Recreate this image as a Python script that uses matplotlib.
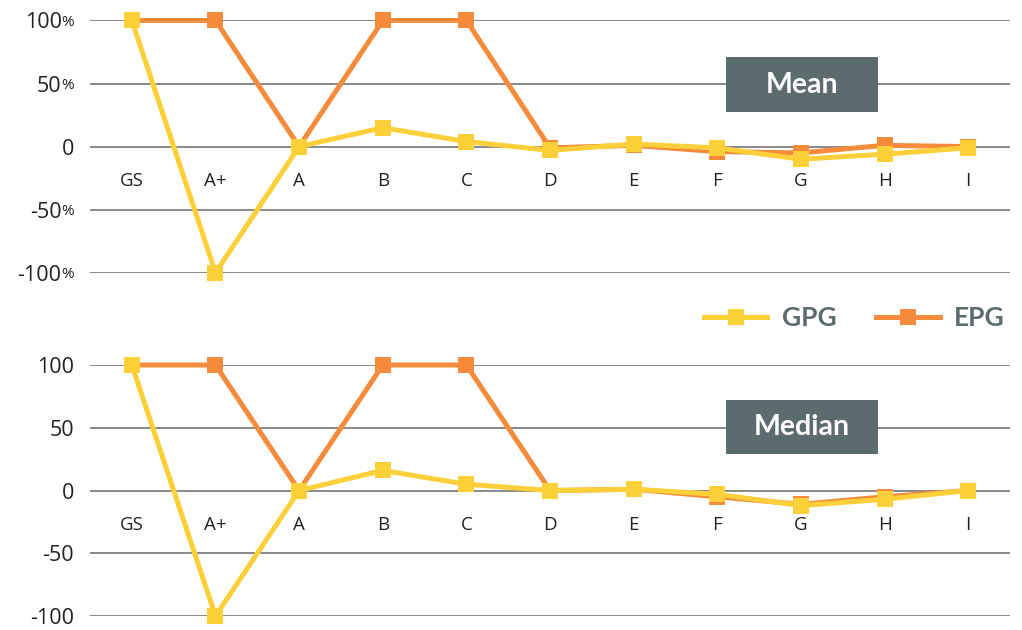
import matplotlib
matplotlib.use("Agg")
import matplotlib.pyplot as plt
from matplotlib.patches import Rectangle
from matplotlib.lines import Line2D
import matplotlib.transforms as mtransforms

categories = ["GS", "A+", "A", "B", "C", "D", "E", "F", "G", "H", "I"]
mean_gpg = [100, -100, 0, 15, 4, -3, 2, -1, -10, -6, -1]
mean_epg = [100, 100, 0, 100, 100, -1, 1, -4, -5, 1, 0]
median_gpg = [100, -100, 0, 16, 5, 0, 1, -3, -12, -7, 0]
median_epg = [100, 100, 0, 100, 100, 0, 1, -5, -11, -5, 0]
yticks = [-100, -50, 0, 50, 100]
panel_titles = ["Mean", "Median"]

YELLOW = "#FDD03A"
ORANGE = "#F58B3B"
SLATE = "#5B6B6E"
GRID = "#808080"

plt.rcParams['font.family'] = ['Open Sans', 'DejaVu Sans']
plt.rcParams['axes.unicode_minus'] = False

fig = plt.figure(figsize=(10.22, 6.3), dpi=100)
ax_top = fig.add_axes([0.0881, 0.5671, 0.9002, 0.4004])
ax_bot = fig.add_axes([0.0881, 0.0222, 0.9002, 0.3984])

x = list(range(len(categories)))

for ax, gpg, epg, title, pct in [
    (ax_top, mean_gpg, mean_epg, panel_titles[0], True),
    (ax_bot, median_gpg, median_epg, panel_titles[1], False),
]:
    ax.set_xlim(-0.5, len(categories) - 0.5)
    ax.set_ylim(-100, 100)
    for s in ax.spines.values():
        s.set_visible(False)
    ax.spines['bottom'].set_position(('data', 0))
    ax.set_yticks(yticks)
    ax.yaxis.grid(True, color=GRID, linewidth=1.3)
    ax.set_axisbelow(True)
    ax.tick_params(axis='y', length=0, pad=11.5, labelsize=15.5, labelcolor="#222222")
    ax.set_xticks(x)
    ax.set_xticklabels(categories)
    ax.tick_params(axis='x', length=0, pad=18, labelsize=13.5, labelcolor="#222222")

    ax.plot(x, epg, color=ORANGE, lw=3.6, marker='s', ms=12, mew=0,
            clip_on=False, zorder=3, solid_joinstyle='miter')
    ax.plot(x, gpg, color=YELLOW, lw=3.6, marker='s', ms=12, mew=0,
            clip_on=False, zorder=4, solid_joinstyle='miter')

    if pct:
        ax.set_yticklabels([])
        base = ax.get_yaxis_transform()
        for v in yticks:
            if v == 0:
                tr = base + mtransforms.ScaledTranslation(-11.5 / 72, 0, fig.dpi_scale_trans)
                ax.text(0, v, "0", transform=tr, ha='right', va='center_baseline',
                        fontsize=15.5, color="#222222")
            else:
                tr_n = base + mtransforms.ScaledTranslation(-20.5 / 72, 0, fig.dpi_scale_trans)
                tr_p = base + mtransforms.ScaledTranslation(-11.5 / 72, 0, fig.dpi_scale_trans)
                ax.text(0, v, f"{v}", transform=tr_n, ha='right', va='center_baseline',
                        fontsize=15.5, color="#222222")
                ax.text(0, v, "%", transform=tr_p, ha='right', va='center_baseline',
                        fontsize=11, color="#222222")

    y0 = 0.637 if pct else 0.645
    y1 = 0.855 if pct else 0.861
    ax.add_patch(Rectangle((0.691, y0), 0.8565 - 0.691, y1 - y0, transform=ax.transAxes,
                           facecolor=SLATE, edgecolor='none', zorder=5))
    ax.text((0.691 + 0.8565) / 2, (y0 + y1) / 2, title, transform=ax.transAxes,
            ha='center', va='center', color='white', fontsize=20.5, fontweight='bold',
            family=['Lato', 'DejaVu Sans'], zorder=6)

handles = [
    Line2D([], [], color=YELLOW, lw=3.6, marker='s', ms=12, mew=0),
    Line2D([], [], color=ORANGE, lw=3.6, marker='s', ms=12, mew=0),
]
leg = fig.legend(handles, ["GPG", "EPG"], loc='center', bbox_to_anchor=(0.836, 0.495),
                 ncol=2, frameon=False, handlelength=2.4, handletextpad=0.56,
                 columnspacing=1.5, borderpad=0,
                 prop={'family': ['Lato', 'DejaVu Sans'], 'weight': 'bold', 'size': 19})
for t in leg.get_texts():
    t.set_color(SLATE)

fig.savefig("out.png", dpi=100)
